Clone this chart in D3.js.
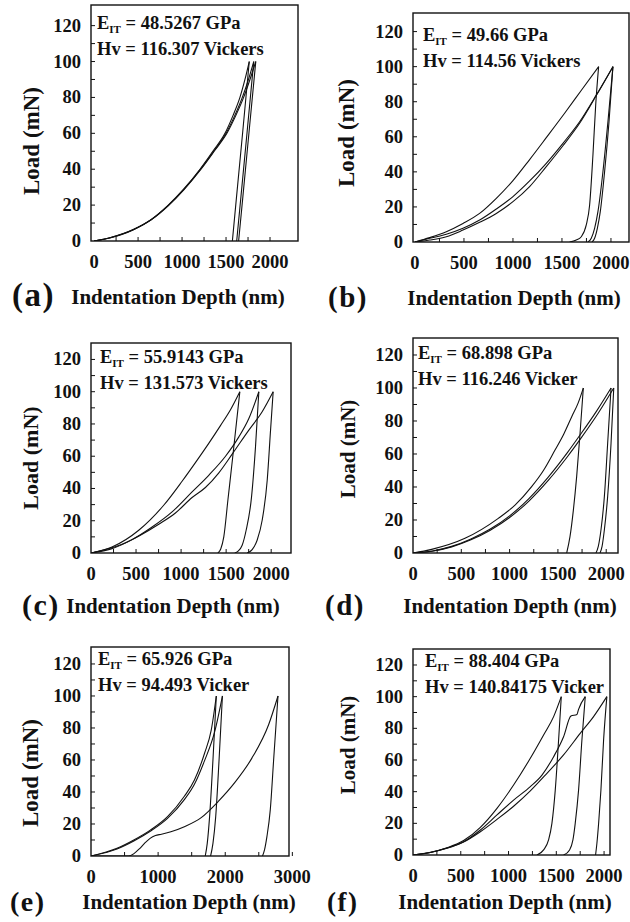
<!DOCTYPE html>
<html>
<head>
<meta charset="utf-8">
<script src="https://cdn.jsdelivr.net/npm/d3@7/dist/d3.min.js"></script>
<style>
body{margin:0;background:#ffffff;}
svg{display:block;}
</style>
</head>
<body>
<svg id="chart" width="630" height="922"></svg>
<script>

// ---- data (depth in nm, load in mN) ----
var panelLetters = ["(a)","(b)","(c)","(d)","(e)","(f)"];
var modulusText  = ["48.5267 GPa","49.66 GPa","55.9143 GPa","68.898 GPa","65.926 GPa","88.404 GPa"];
var hardnessText = ["116.307 Vickers","114.56 Vickers","131.573 Vickers","116.246 Vicker","94.493 Vicker","140.84175 Vicker"];
var yTicks = [0,20,40,60,80,100,120];
var xTicksStd = [0,500,1000,1500,2000];
var xTicksWide = [0,1000,2000,3000];

var curvesA = [
  {load:[[0,0],[180,1.8],[450,6.5],[650,12],[843,20],[1020,29],[1204,40],[1350,50],[1488,60],[1580,70],[1658,80],[1715,90],[1764,100]],
   unload:[[1572,0],[1620,25],[1690,61],[1764,100]]},
  {load:[[0,0],[180,1.8],[450,6.4],[650,11.9],[843,19.8],[1020,28.7],[1204,39.6],[1360,50],[1500,60],[1600,70],[1685,80],[1755,90],[1815,100]],
   unload:[[1621,0],[1670,25],[1740,61],[1815,100]]},
  {load:[[0,0],[180,1.7],[450,6.3],[650,11.8],[843,19.6],[1020,28.5],[1204,39.3],[1365,50],[1510,60],[1612,70],[1700,80],[1772,90],[1838,100]],
   unload:[[1643,0],[1692,25],[1762,61],[1838,100]]}
];

var curvesB = [
  {load:[[0,0],[150,2.5],[320,5.9],[490,10.6],[660,16.3],[830,24.9],[1000,35],[1170,47],[1340,59.5],[1527,73.4],[1700,86.7],[1874,100]],
   unload:[[1578,0],[1646,1.1],[1697,3],[1748,9.7],[1782,21],[1816,49.6],[1844,78],[1874,100]]},
  {load:[[0,0],[150,2.1],[320,4.4],[490,7.8],[660,12.5],[830,18.8],[1000,25.9],[1170,34.8],[1340,44.9],[1510,56.3],[1680,68.6],[1850,83.8],[2020,100]],
   unload:[[1765,0],[1799,2.1],[1833,7.8],[1867,17.3],[1918,40.1],[1969,68.6],[2020,100]]},
  {load:[[0,0],[150,1.1],[320,3],[490,6.8],[660,11.2],[830,16.3],[1000,23],[1170,31.6],[1340,43],[1510,54.9],[1680,67.7],[1850,83.5],[2020,100]],
   unload:[[1806,0],[1833,2.1],[1861,7.8],[1891,17.3],[1935,40.1],[1980,68.6],[2020,100]]}
];

var curvesC = [
  {load:[[0,0],[233,3.7],[530,14.1],[807,29.6],[1011,44.5],[1196,59],[1307,68],[1437,79],[1550,89],[1652,100]],
   unload:[[1408,0],[1440,2.5],[1474,10],[1520,33],[1570,58],[1652,100]]},
  {load:[[0,0],[233,2.7],[456,8.3],[678,16.1],[900,25.5],[1122,37.9],[1307,48.2],[1493,60],[1641,72],[1752,83.4],[1863,100]],
   unload:[[1596,0],[1633,1.2],[1678,4.8],[1722,14.1],[1782,34.8],[1826,65.8],[1863,100]]},
  {load:[[0,0],[344,5.4],[548,11],[752,17.8],[937,24.8],[1122,34.4],[1270,40.6],[1419,49.7],[1567,61.3],[1752,76.2],[1900,87.6],[2022,100]],
   unload:[[1733,0],[1789,2.1],[1844,7.9],[1900,20.3],[1956,45.1],[1993,76.2],[2022,100]]}
];

var curvesD = [
  {load:[[0,0],[193,2.2],[538,8.9],[883,21],[1056,29],[1228,40.2],[1350,50],[1470,62.4],[1560,72],[1643,82.6],[1710,91],[1763,100]],
   unload:[[1591,0],[1625,9.9],[1660,26],[1694,46.3],[1729,72.4],[1763,100]]},
  {load:[[0,0],[200,1.2],[400,4],[600,8.5],[800,14.5],[1000,22.5],[1200,33],[1400,46],[1600,61],[1729,71.5],[1900,86],[2050,100]],
   unload:[[1894,0],[1918,4],[1946,14.1],[1981,34.3],[2015,66.5],[2050,100]]},
  {load:[[0,0],[200,1.1],[400,3.7],[600,8],[800,13.8],[1000,21.5],[1200,31.5],[1400,44],[1600,58.5],[1750,70.5],[1920,85],[2078,100]],
   unload:[[1936,0],[1957,4],[1981,14.1],[2015,34.3],[2050,66.5],[2078,100]]}
];

var curvesE = [
  {load:[[0,0],[387,4.8],[638,10],[889,16.3],[1140,24.6],[1391,37.3],[1541,47.5],[1692,64.2],[1792,78.8],[1867,100]],
   unload:[[1702,0],[1732,7.9],[1767,24.6],[1817,60],[1867,100]]},
  {load:[[0,0],[387,4.4],[638,9.4],[889,15.6],[1140,23.5],[1391,35.2],[1541,44.8],[1692,59.6],[1843,77.7],[1958,100]],
   unload:[[1782,0],[1817,7.9],[1858,24.6],[1908,60],[1958,100]]},
  {load:[[0,0],[560,0],[640,1.5],[720,4.5],[800,8],[880,11],[960,12.8],[1050,13.6],[1190,15.2],[1400,18.5],[1642,24],[1893,34],[2144,46],[2395,61],[2646,82],[2786,100]],
   unload:[[2555,0],[2585,3.8],[2621,12.1],[2671,28.8],[2721,60],[2786,100]]}
];

var curvesF = [
  {load:[[0,0],[182,1.7],[356,4.6],[530,9.1],[705,17.5],[879,29.5],[1053,44.2],[1228,61.1],[1367,75.8],[1472,87.4],[1552,100]],
   unload:[[1297,0],[1367,3.2],[1419,9.5],[1454,20],[1489,41],[1524,72.6],[1552,100]]},
  {load:[[0,0],[182,1.6],[356,4.4],[530,8.4],[705,15.8],[879,25.3],[1053,34.7],[1228,43.2],[1350,50.5],[1472,62.1],[1576,74.7],[1653,87.8],[1716,88.8],[1733,92],[1803,100]],
   unload:[[1576,0],[1639,3.2],[1674,9.5],[1698,20],[1733,41],[1768,72.6],[1803,100]]},
  {load:[[0,0],[182,1.6],[356,4.2],[530,8.2],[705,14.7],[879,22.5],[1053,30.8],[1228,40.5],[1402,51.6],[1576,63.2],[1750,76.8],[1890,87.4],[2029,100]],
   unload:[[1911,0],[1925,7.4],[1943,20],[1967,41],[1995,72.6],[2029,100]]}
];

var allCurves = [curvesA,curvesB,curvesC,curvesD,curvesE,curvesF];
var allXTicks = [xTicksStd,xTicksStd,xTicksStd,xTicksStd,xTicksWide,xTicksStd];

// ---- layout (pixel frames of each small plot) ----
var frames = [
  {x0:91,  x1:298, y0:5,   y1:241, xd:[-35,2318], yTop:131.5, minor:250, letterX:12,  letterSize:33, ttlX:178, ttlY:304, ylabX:39,  ylabY:141, ylabSize:23, annX:97,  annY:29},
  {x0:413, x1:629, y0:13,  y1:242, xd:[-20,2184], yTop:130.6, minor:250, letterX:328, letterSize:29, ttlX:514, ttlY:305, ylabX:354, ylabY:133, ylabSize:23, annX:423, annY:41},
  {x0:91,  x1:291, y0:343, y1:553, xd:[0,2220],   yTop:130.2, minor:250, letterX:22,  letterSize:30, ttlX:173, ttlY:613, ylabX:38,  ylabY:458, ylabSize:22, annX:100, annY:363},
  {x0:413, x1:618, y0:338, y1:553, xd:[0,2122],   yTop:130.3, minor:250, letterX:325, letterSize:29, ttlX:510, ttlY:613, ylabX:355, ylabY:449, ylabSize:21, annX:418, annY:359},
  {x0:91,  x1:289, y0:647, y1:856, xd:[0,2950],   yTop:130.6, minor:500, letterX:10,  letterSize:28, ttlX:189, ttlY:909, ylabX:38,  ylabY:773, ylabSize:23, annX:98,  annY:665},
  {x0:413, x1:610, y0:649, y1:855, xd:[0,2062],   yTop:130.1, minor:250, letterX:327, letterSize:27, ttlX:505, ttlY:909, ylabX:355, ylabY:745, ylabSize:21, annX:425, annY:667}
];

var fontFam = "'Liberation Serif','Times New Roman',serif";
var svg = d3.select("#chart");

frames.forEach(function(f, i){

    var x = d3.scaleLinear().domain(f.xd).range([f.x0, f.x1]);
    var y = d3.scaleLinear().domain([0, f.yTop]).range([f.y1, f.y0]);
    var g = svg.append("g").attr("class","panel");

    // clip for curves
    g.append("clipPath").attr("id","clip"+i)
        .append("rect").attr("x",f.x0).attr("y",f.y0)
        .attr("width",f.x1-f.x0).attr("height",f.y1-f.y0);

    // minor / major ticks, pointing inside
    var yt = d3.range(10, 130, 10);
    g.selectAll(".yt").data(yt).enter().append("line")
        .attr("x1",f.x0).attr("x2",f.x0+4)
        .attr("y1",function(d){return y(d);}).attr("y2",function(d){return y(d);})
        .attr("stroke","#111").attr("stroke-width",1);

    var xMax = allXTicks[i][allXTicks[i].length-1];
    var xt = d3.range(f.minor, xMax+1, f.minor);
    g.selectAll(".xt").data(xt).enter().append("line")
        .attr("x1",function(d){return x(d);}).attr("x2",function(d){return x(d);})
        .attr("y1",f.y1).attr("y2",f.y1-4)
        .attr("stroke","#111").attr("stroke-width",1);

    // curves
    var line = d3.line()
        .x(function(d){return x(d[0]);})
        .y(function(d){return y(d[1]);})
        .curve(d3.curveMonotoneX);

    var cg = g.append("g").attr("clip-path","url(#clip"+i+")");
    allCurves[i].forEach(function(c){
        cg.append("path").attr("d",line(c.load))
            .attr("fill","none").attr("stroke","#111").attr("stroke-width",1.1);
        cg.append("path").attr("d",line(c.unload))
            .attr("fill","none").attr("stroke","#111").attr("stroke-width",1.1);
    });

    // frame
    g.append("rect")
        .attr("x",f.x0).attr("y",f.y0)
        .attr("width",f.x1-f.x0).attr("height",f.y1-f.y0)
        .attr("fill","none").attr("stroke","#111").attr("stroke-width",1.4);

    // tick labels
    g.selectAll(".ylab").data(yTicks).enter().append("text")
        .attr("x",f.x0-10).attr("y",function(d){return y(d)+6;})
        .style("font-family",fontFam).style("font-weight","bold").style("font-size","18.5px")
        .style("text-anchor","end").style("fill","#111")
        .text(function(d){return d;});

    g.selectAll(".xlab").data(allXTicks[i]).enter().append("text")
        .attr("x",function(d){return x(d);}).attr("y",f.y1+27)
        .style("font-family",fontFam).style("font-weight","bold").style("font-size","18.5px")
        .style("text-anchor","middle").style("fill","#111")
        .text(function(d){return d;});

    // axis titles
    g.append("text")
        .attr("transform","translate("+f.ylabX+","+f.ylabY+") rotate(-90)")
        .style("font-family",fontFam).style("font-weight","bold").style("font-size",f.ylabSize+"px")
        .style("text-anchor","middle").style("fill","#111")
        .text("Load (mN)");

    g.append("text")
        .attr("x",f.ttlX).attr("y",f.ttlY)
        .style("font-family",fontFam).style("font-weight","bold").style("font-size","21px")
        .style("text-anchor","middle").style("fill","#111")
        .text("Indentation Depth (nm)");

    g.append("text")
        .attr("x",f.letterX).attr("y",f.ttlY+2)
        .style("font-family",fontFam).style("font-weight","bold").style("font-size",f.letterSize+"px")
        .style("letter-spacing","1.5px").style("fill","#111")
        .text(panelLetters[i]);

    // annotation
    var ann = g.append("text")
        .attr("x",f.annX).attr("y",f.annY)
        .style("font-family",fontFam).style("font-weight","bold").style("font-size","18.5px")
        .style("fill","#111");
    ann.append("tspan").text("E");
    ann.append("tspan").attr("dy",4).style("font-size","11px").text("IT");
    ann.append("tspan").attr("dy",-4).text(" = "+modulusText[i]);

    g.append("text")
        .attr("x",f.annX).attr("y",f.annY+26)
        .style("font-family",fontFam).style("font-weight","bold").style("font-size","18.5px")
        .style("fill","#111")
        .text("Hv = "+hardnessText[i]);
});

</script>
</body>
</html>
